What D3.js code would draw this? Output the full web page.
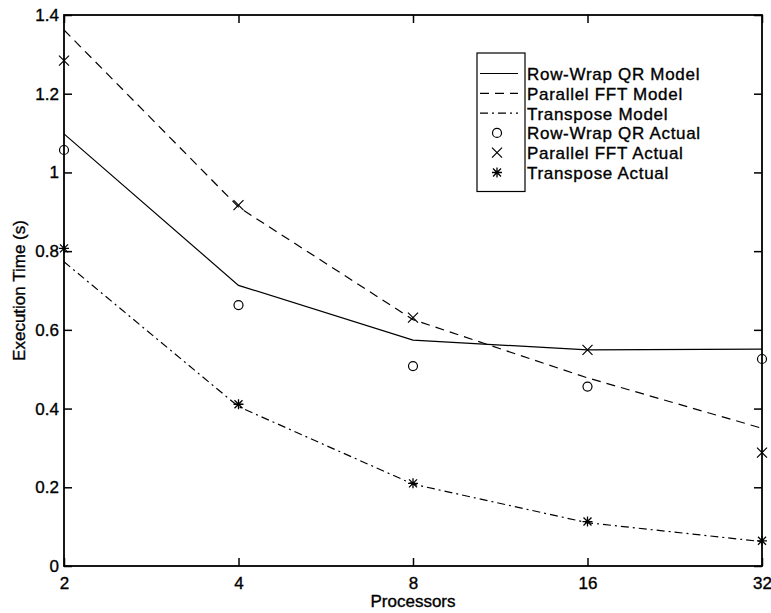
<!DOCTYPE html>
<html>
<head>
<meta charset="utf-8">
<script src="https://cdn.jsdelivr.net/npm/d3@7"></script>
<style>
  html, body { margin: 0; padding: 0; background: #fff; }
  svg text { font-family: "Liberation Sans", Arial, Helvetica, sans-serif; fill: #000; stroke: #000; stroke-width: 0.35px; }
</style>
</head>
<body>
<div id="chart"></div>
<script>
// values
const processors = [2, 4, 8, 16, 32];
const yTicks = [0, 0.2, 0.4, 0.6, 0.8, 1, 1.2, 1.4];

const rowWrapModel    = [1.098, 0.713, 0.574, 0.549, 0.551];
const fftModel        = [1.362, 0.912, 0.626, 0.478, 0.350];
const transposeModel  = [0.773, 0.405, 0.208, 0.110, 0.062];
const rowWrapActual   = [1.057, 0.663, 0.508, 0.456, 0.526];
const fftActual       = [1.284, 0.917, 0.631, 0.549, 0.288];
const transposeActual = [0.807, 0.411, 0.210, 0.113, 0.064];

const legendLabels = [
  'Row-Wrap QR Model', 'Parallel FFT Model', 'Transpose Model',
  'Row-Wrap QR Actual', 'Parallel FFT Actual', 'Transpose Actual'
];

const W = 771, H = 613;
const PLOT = { left: 64, right: 762, top: 15, bottom: 566 };
const FONT = 17;

const svg = d3.select('#chart').append('svg')
  .attr('width', W).attr('height', H);

const x = d3.scaleLog().base(2).domain([2, 32]).range([PLOT.left, PLOT.right]);
const y = d3.scaleLinear().domain([0, 1.4]).range([PLOT.bottom, PLOT.top]);

// model lines
const models = [
  { values: rowWrapModel, dash: null },
  { values: fftModel, dash: '9,6' },
  { values: transposeModel, dash: '8,4,2,4' },
];
const line = d3.line().x(d => x(d[0])).y(d => y(d[1]));

models.forEach(m => {
  svg.append('path')
    .datum(processors.map((p, i) => [p, m.values[i]]))
    .attr('d', line)
    .attr('fill', 'none')
    .attr('stroke', '#000')
    .attr('stroke-width', 1.2)
    .attr('stroke-dasharray', m.dash);
});

// marker shapes
function marker(g, type) {
  if (type === 'circle') {
    g.append('circle').attr('r', 4.5)
      .attr('fill', 'none').attr('stroke', '#000').attr('stroke-width', 1.2);
  } else if (type === 'x') {
    g.append('path').attr('d', 'M-5,-5L5,5M-5,5L5,-5')
      .attr('stroke', '#000').attr('stroke-width', 1.2);
  } else {
    g.append('path').attr('d', 'M-5,0L5,0M0,-5L0,5M-4,-4L4,4M-4,4L4,-4')
      .attr('stroke', '#000').attr('stroke-width', 1.3);
  }
}

const actuals = [
  { values: rowWrapActual, type: 'circle' },
  { values: fftActual, type: 'x' },
  { values: transposeActual, type: 'star' },
];

actuals.forEach(a => {
  svg.append('g').selectAll('g')
    .data(processors.map((p, i) => [p, a.values[i]]))
    .join('g')
    .attr('transform', d => `translate(${x(d[0])},${y(d[1])})`)
    .each(function () { marker(d3.select(this), a.type); });
});

// axes (ticks inward, mirrored on all four sides)
const axisBottom = svg.append('g')
  .attr('transform', `translate(0,${PLOT.bottom})`)
  .call(d3.axisBottom(x).tickValues(processors).tickFormat(d3.format('d'))
    .tickSizeInner(-8).tickSizeOuter(0).tickPadding(11));
const axisTop = svg.append('g')
  .attr('transform', `translate(0,${PLOT.top})`)
  .call(d3.axisTop(x).tickValues(processors).tickFormat('')
    .tickSizeInner(-8).tickSizeOuter(0));
const axisLeft = svg.append('g')
  .attr('transform', `translate(${PLOT.left},0)`)
  .call(d3.axisLeft(y).tickValues(yTicks).tickFormat(d3.format('~g'))
    .tickSizeInner(-8).tickSizeOuter(0).tickPadding(5));
const axisRight = svg.append('g')
  .attr('transform', `translate(${PLOT.right},0)`)
  .call(d3.axisRight(y).tickValues(yTicks).tickFormat('')
    .tickSizeInner(-8).tickSizeOuter(0));

[axisBottom, axisTop, axisLeft, axisRight].forEach(a => {
  a.select('.domain').remove();
  a.selectAll('line').attr('stroke', '#000').attr('stroke-width', 1.5);
  a.selectAll('text').attr('font-size', FONT).attr('font-family', null).attr('fill', null);
});

svg.append('rect')
  .attr('x', PLOT.left).attr('y', PLOT.top)
  .attr('width', PLOT.right - PLOT.left)
  .attr('height', PLOT.bottom - PLOT.top)
  .attr('fill', 'none').attr('stroke', '#000').attr('stroke-width', 1.8);

// axis labels
svg.append('text')
  .attr('x', (PLOT.left + PLOT.right) / 2).attr('y', 607)
  .attr('text-anchor', 'middle').attr('font-size', FONT)
  .text('Processors');

svg.append('text')
  .attr('transform', `translate(25,${(PLOT.top + PLOT.bottom) / 2}) rotate(-90)`)
  .attr('text-anchor', 'middle').attr('font-size', FONT)
  .text('Execution Time (s)');

// legend
const legend = svg.append('g').attr('transform', 'translate(477,53)');
legend.append('rect')
  .attr('width', 48).attr('height', 138.5)
  .attr('fill', '#fff').attr('stroke', '#000').attr('stroke-width', 1.2);

const legendItems = legendLabels.map((label, i) => ({
  label,
  dash: i < 3 ? models[i].dash : null,
  type: i < 3 ? null : actuals[i - 3].type,
}));

const row = legend.selectAll('.legend-row')
  .data(legendItems)
  .join('g')
  .attr('class', 'legend-row')
  .attr('transform', (d, i) => `translate(0,${20.5 + i * 19.8})`);

row.each(function (d) {
  const g = d3.select(this);
  if (d.type) {
    const m = g.append('g').attr('transform', 'translate(20,0)');
    marker(m, d.type);
  } else {
    g.append('line')
      .attr('x1', 3).attr('x2', 41)
      .attr('stroke', '#000').attr('stroke-width', 1.2)
      .attr('stroke-dasharray', d.dash);
  }
});

row.append('text')
  .attr('x', 50).attr('y', 6.5)
  .attr('font-size', FONT)
  .attr('letter-spacing', 0.7)
  .text(d => d.label);
</script>
</body>
</html>
